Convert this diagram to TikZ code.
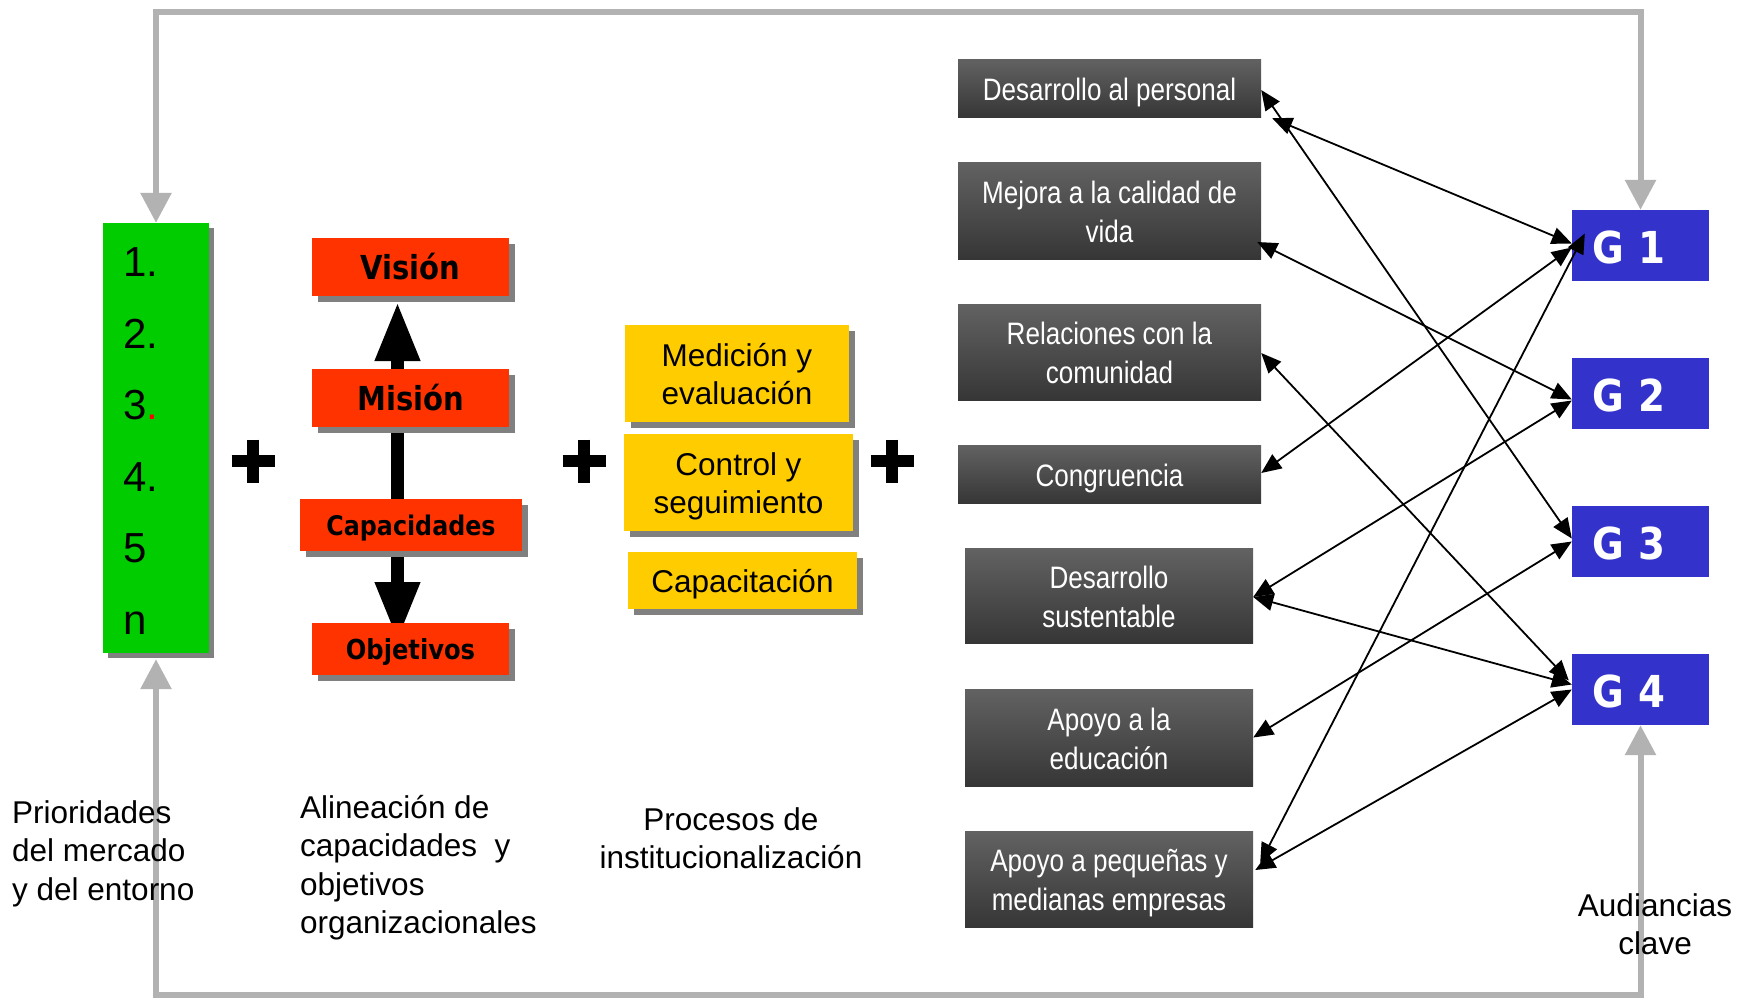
\documentclass[tikz,border=0pt]{standalone}
\usepackage{fontspec}
\setmainfont{Liberation Sans}
\newfontfamily\arial{Liberation Sans}
\newfontfamily\narrow[FakeStretch=0.84]{Liberation Sans}
\newfontfamily\tahoma[FakeStretch=0.88]{DejaVu Sans}
\usetikzlibrary{arrows.meta,shadows,calc}
\definecolor{grn}{HTML}{00CC00}
\definecolor{rd}{HTML}{FF3300}
\definecolor{yl}{HTML}{FFCC00}
\definecolor{bl}{HTML}{3333CC}
\definecolor{shd}{HTML}{808080}
\definecolor{loopgray}{HTML}{B2B2B2}
\definecolor{dktop}{HTML}{626262}
\definecolor{dkbot}{HTML}{363636}
\definecolor{dotred}{HTML}{FF0000}
\newcommand\mytop{\rule{0pt}{1em}}
\newcommand\mybot{\rule[-0.21em]{0pt}{0.21em}}
\tikzset{
  shad/.style={drop shadow={shadow xshift=#1,shadow yshift=-#1,fill=shd,opacity=1}},
  greenbox/.style={fill=grn, shad=5pt, minimum width=106pt, minimum height=430pt,
    text width=66pt, inner xsep=20pt, inner ysep=0pt, align=left,
    font=\arial\fontsize{42}{71.6}\selectfont,
    execute at begin node={\rule{0pt}{35pt}}},
  redbox/.style={fill=rd, shad=6pt, inner sep=0pt, minimum width=197pt,
    font=\tahoma\bfseries\fontsize{#1}{38}\selectfont},
  redstrut/.style={execute at begin node={\rule{0pt}{1em}}},
  yellowbox/.style={fill=yl, shad=6pt, inner sep=0pt, align=center,
    font=\arial\fontsize{31.5}{38}\selectfont},
  darkbox/.style={top color=dktop, bottom color=dkbot, draw=none, text=white,
    inner sep=0pt, align=center, font=\narrow\fontsize{31}{39}\selectfont},
  gbox/.style={fill=bl, text=white, align=left, text width=97pt, inner xsep=20pt,
    inner ysep=0pt, minimum height=71pt, font=\tahoma\bfseries\fontsize{44}{50}\selectfont,
    execute at begin node={\rule{0pt}{36.5pt}}},
  conn/.style={draw=black, line width=1.8pt,
    {Triangle[length=20pt,width=17pt]}-{Triangle[length=20pt,width=17pt]}},
  loopline/.style={draw=loopgray, line width=6pt,
    {Triangle[length=30pt,width=30pt]}-{Triangle[length=30pt,width=30pt]}},
  thickarrow/.style={draw=black, line width=13pt,
    {Triangle[length=59pt,width=42pt]}-{Triangle[length=59pt,width=42pt]}},
  plussign/.style={draw=black, line width=12pt},
  lbl/.style={inner sep=0pt, font=\arial\fontsize{31.5}{38.5}\selectfont}
}
\begin{document}
\begin{tikzpicture}[x=1pt,y=-1pt]
\useasboundingbox (0,0) rectangle (1744,1005);

% thick vertical arrow behind the red boxes
\coordinate (atop) at (397.5,302);
\coordinate (abot) at (397.5,641);
\draw[thickarrow] (abot) -- (atop);

% plus signs
\draw[plussign] (231.5,461) -- (274.5,461) (253,439.5) -- (253,482.5);
\draw[plussign] (562.5,461) -- (605.5,461) (584,439.5) -- (584,482.5);
\draw[plussign] (870.5,461) -- (913.5,461) (892,439.5) -- (892,482.5);

% green list
\node[greenbox] (green) at (156,438) {1.\\2.\\3{\color{dotred}.}\\4.\\5\\n};

% red column
\node[redbox=33, minimum height=58pt] (vision) at (410.5,267) {Visión};
\node[redbox=33, minimum height=58pt] (mision) at (410.5,398) {Misión};
\node[redbox=27, redstrut, minimum height=52pt, minimum width=222pt] (capac) at (411,525) {Capacidades};
\node[redbox=27.5, redstrut, minimum height=52pt] (objet) at (410.5,649) {Objetivos};

% yellow column
\node[yellowbox, minimum width=224pt, minimum height=97pt] (medic) at (737,373.5) {\mytop Medición y\\evaluación\mybot};
\node[yellowbox, minimum width=229pt, minimum height=97pt] (contr) at (738.5,482.5) {\mytop Control y\\seguimiento\mybot};
\node[yellowbox, minimum width=229pt, minimum height=57pt] (capacit) at (742.5,580.5) {\mytop Capacitación\mybot};

% dark boxes
\node[darkbox, minimum width=303pt, minimum height=58pt] (dp) at (1109.5,88) {\mytop Desarrollo al personal\mybot};
\node[darkbox, minimum width=303pt, minimum height=97pt] (me) at (1109.5,210.5) {\mytop Mejora a la calidad de\\vida\mybot};
\node[darkbox, minimum width=303pt, minimum height=96pt] (rel) at (1109.5,352) {\mytop Relaciones con la\\comunidad\mybot};
\node[darkbox, minimum width=303pt, minimum height=58pt] (cong) at (1109.5,474) {\mytop Congruencia\mybot};
\node[darkbox, minimum width=288pt, minimum height=95pt] (ds) at (1109,595.5) {\mytop Desarrollo\\sustentable\mybot};
\node[darkbox, minimum width=288pt, minimum height=97pt] (edu) at (1109,737.5) {\mytop Apoyo a la\\educación\mybot};
\node[darkbox, minimum width=288pt, minimum height=96pt] (py) at (1109,879) {\mytop Apoyo a pequeñas y\\medianas empresas\mybot};

% audience boxes
\node[gbox] (g1) at (1640.5,245.5) {G 1};
\node[gbox] (g2) at (1640.5,393.5) {G 2};
\node[gbox] (g3) at (1640.5,541.5) {G 3};
\node[gbox] (g4) at (1640.5,689.5) {G 4};

% connectors
\draw[conn] ($(dp.east)+(0,2)$) -- ($(g3.west)+(0,-3)$);
\draw[conn] ($(dp.south east)+(11,1)$) -- ($(g1.west)+(0,-2)$);
\draw[conn] ($(me.east)+(-4,31.5)$) -- ($(g2.west)+(0,6)$);
\draw[conn] ($(rel.east)+(0,1)$) -- ($(g4.west)+(-3,-9)$);
\draw[conn] ($(cong.east)+(0,-1)$) -- ($(g1.west)+(0,2)$);
\draw[conn] ($(ds.east)+(0,1.5)$) -- ($(g2.west)+(0,7)$);
\draw[conn] ($(ds.east)+(0,1.5)$) -- ($(g4.west)+(0,-5)$);
\draw[conn] (edu.east) -- ($(g3.west)+(0,0)$);
\draw[conn] ($(py.east)+(7,-16)$) -- ($(g1.west)+(13,-12)$);
\draw[conn] ($(py.east)+(2,-9)$) -- ($(g4.west)+(0,0)$);

% grey feedback loop
\coordinate (tl) at (156,12);
\coordinate (tr) at (1640.5,12);
\coordinate (bl) at (156,995);
\coordinate (br) at (1640.5,995);
\coordinate (gbot) at ($(green.south)+(0,6)$);
\draw[loopline] (green.north) -- (tl) -- (tr) -- (g1.north);
\draw[loopline] (gbot) -- (bl) -- (br) -- (g4.south);

% captions
\node[lbl, anchor=north west, align=left] (prio) at (12,793)
  {\rule{0pt}{30pt}Prioridades\\del mercado\\y del entorno};
\node[lbl, anchor=north west, align=left] (alin) at (300,788)
  {\rule{0pt}{30pt}Alineación de\\capacidades\ \ y\\objetivos\\organizacionales};
\node[lbl, anchor=north, align=center] (proc) at (731,800)
  {\rule{0pt}{30pt}Procesos de\\institucionalización};
\node[lbl, anchor=north, align=center] (aud) at (1655,886)
  {\rule{0pt}{30pt}Audiancias\\clave};
\end{tikzpicture}
\end{document}
